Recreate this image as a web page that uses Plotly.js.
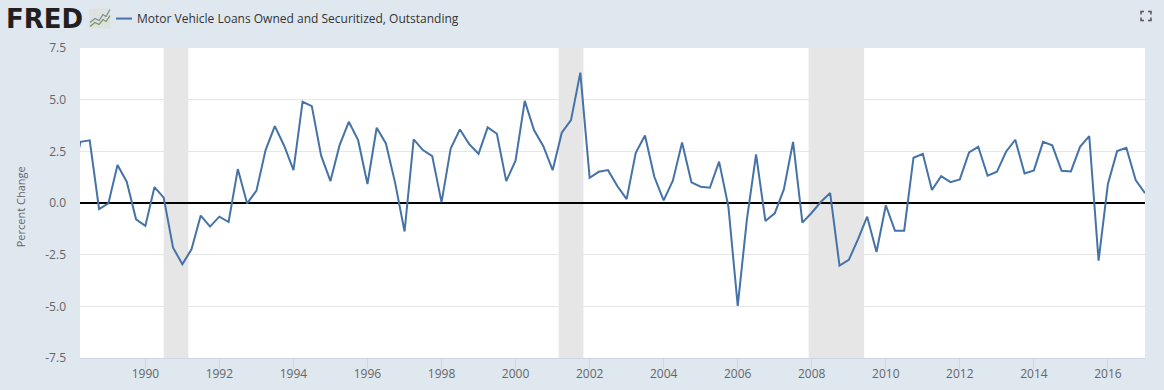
<!DOCTYPE html>
<html>
<head>
<meta charset="utf-8">
<script src="https://cdn.plot.ly/plotly-3.0.1.min.js"></script>
<style>html,body{margin:0;padding:0;background:#dfe7ef;}#chart{width:1164px;height:390px;}</style>
</head>
<body>
<div id="chart"></div>
<script>
const seriesName = "Motor Vehicle Loans Owned and Securitized, Outstanding";
const yAxisTitle = "Percent Change";
const yTicks = [-7.5,-5,-2.5,0,2.5,5,7.5];
const yTickLabels = ["-7.5","-5.0","-2.5","0.0","2.5","5.0","7.5"];
const xTicks = ["1990-01-01","1992-01-01","1994-01-01","1996-01-01","1998-01-01","2000-01-01","2002-01-01","2004-01-01","2006-01-01","2008-01-01","2010-01-01","2012-01-01","2014-01-01","2016-01-01"];
const xTickLabels = ["1990","1992","1994","1996","1998","2000","2002","2004","2006","2008","2010","2012","2014","2016"];
const recessionStarts = ["1990-07-01","2001-03-01","2007-12-01"];
const recessionEnds = ["1991-03-01","2001-11-01","2009-06-01"];

const dates = [
"1988-01-01","1988-04-01","1988-07-01","1988-10-01",
"1989-01-01","1989-04-01","1989-07-01","1989-10-01",
"1990-01-01","1990-04-01","1990-07-01","1990-10-01",
"1991-01-01","1991-04-01","1991-07-01","1991-10-01",
"1992-01-01","1992-04-01","1992-07-01","1992-10-01",
"1993-01-01","1993-04-01","1993-07-01","1993-10-01",
"1994-01-01","1994-04-01","1994-07-01","1994-10-01",
"1995-01-01","1995-04-01","1995-07-01","1995-10-01",
"1996-01-01","1996-04-01","1996-07-01","1996-10-01",
"1997-01-01","1997-04-01","1997-07-01","1997-10-01",
"1998-01-01","1998-04-01","1998-07-01","1998-10-01",
"1999-01-01","1999-04-01","1999-07-01","1999-10-01",
"2000-01-01","2000-04-01","2000-07-01","2000-10-01",
"2001-01-01","2001-04-01","2001-07-01","2001-10-01",
"2002-01-01","2002-04-01","2002-07-01","2002-10-01",
"2003-01-01","2003-04-01","2003-07-01","2003-10-01",
"2004-01-01","2004-04-01","2004-07-01","2004-10-01",
"2005-01-01","2005-04-01","2005-07-01","2005-10-01",
"2006-01-01","2006-04-01","2006-07-01","2006-10-01",
"2007-01-01","2007-04-01","2007-07-01","2007-10-01",
"2008-01-01","2008-04-01","2008-07-01","2008-10-01",
"2009-01-01","2009-04-01","2009-07-01","2009-10-01",
"2010-01-01","2010-04-01","2010-07-01","2010-10-01",
"2011-01-01","2011-04-01","2011-07-01","2011-10-01",
"2012-01-01","2012-04-01","2012-07-01","2012-10-01",
"2013-01-01","2013-04-01","2013-07-01","2013-10-01",
"2014-01-01","2014-04-01","2014-07-01","2014-10-01",
"2015-01-01","2015-04-01","2015-07-01","2015-10-01",
"2016-01-01","2016-04-01","2016-07-01","2016-10-01",
"2017-01-01"];
const values = [
1.00,2.96,3.03,-0.29,
-0.02,1.84,1.03,-0.79,
-1.11,0.77,0.26,-2.16,
-2.96,-2.24,-0.61,-1.14,
-0.66,-0.92,1.64,-0.02,
0.60,2.56,3.72,2.77,
1.59,4.90,4.69,2.29,
1.06,2.80,3.93,3.04,
0.92,3.64,2.88,0.95,
-1.38,3.08,2.56,2.27,
0.03,2.64,3.56,2.85,
2.38,3.66,3.35,1.06,
2.05,4.94,3.53,2.75,
1.59,3.40,4.01,6.31,
1.22,1.51,1.59,0.82,
0.19,2.43,3.27,1.27,
0.13,1.08,2.93,1.00,
0.79,0.74,2.00,-0.18,
-4.98,-0.82,2.35,-0.87,
-0.50,0.66,2.96,-0.95,
-0.47,0.06,0.48,-3.03,
-2.75,-1.76,-0.66,-2.37,
-0.11,-1.34,-1.34,2.19,
2.38,0.63,1.30,1.01,
1.14,2.45,2.72,1.32,
1.51,2.48,3.06,1.43,
1.58,2.96,2.79,1.56,
1.53,2.72,3.24,-2.79,
0.92,2.51,2.67,1.11,
0.47];

const W = 1164, H = 390, L = 80, R = 1145, T = 47.5, B = 358;
const px = v => (v - L) / (R - L);
const py = v => (B - v) / (B - T);
const pathOf = pts => pts.map((p, i) => (i ? "L" : "M") + px(p[0]) + "," + py(p[1])).join(" ");
const deco = (pts, color, width) => ({type:"path", xref:"paper", yref:"paper", path:pathOf(pts), line:{color:color, width:width}, layer:"above"});

const recessionShapes = recessionStarts.map((s, i) => ({
  type:"rect", xref:"x", yref:"paper", x0:s, x1:recessionEnds[i], y0:0, y1:1,
  fillcolor:"#e6e6e6", line:{width:0}, layer:"between"
}));

const logoShapes = [
  {type:"rect", xref:"paper", yref:"paper", x0:px(89), x1:px(110.5), y0:py(28), y1:py(8), fillcolor:"#dde2df", line:{width:0}, layer:"above"},
  deco([[90,22],[95,18],[99,20],[103,14],[106,16],[110,9]], "#7d8c99", 1.2),
  deco([[90,26],[95,22],[99,24],[103,19],[106,21],[110,15]], "#77935a", 1.2),
  deco([[116,18],[132,18]], "#4572a7", 2),
  deco([[1141,14],[1141,11],[1144,11]], "#555555", 1.5),
  deco([[1148,11],[1151,11],[1151,14]], "#555555", 1.5),
  deco([[1141,17],[1141,20],[1144,20]], "#555555", 1.5),
  deco([[1148,20],[1151,20],[1151,17]], "#555555", 1.5)
];

const layout = {
  width:W, height:H, autosize:false,
  paper_bgcolor:"#dfe7ef", plot_bgcolor:"#ffffff",
  margin:{l:L, r:W-R, t:T, b:H-B, pad:0},
  showlegend:false,
  font:{family:"'Open Sans', sans-serif", size:12, color:"#666666"},
  xaxis:{
    type:"date", range:["1988-03-27","2017-01-01"],
    tickmode:"array", tickvals:xTicks, ticktext:xTickLabels,
    ticks:"outside", ticklen:10, tickwidth:1, tickcolor:"#ccd6eb",
    ticklabelstandoff:-5,
    showline:true, linecolor:"#ccd6eb", linewidth:1,
    showgrid:false, zeroline:false,
    tickfont:{family:"'Open Sans', sans-serif", size:12, color:"#666666"}
  },
  yaxis:{
    range:[-7.5,7.5],
    tickmode:"array", tickvals:yTicks, ticktext:yTickLabels,
    ticklabelstandoff:13,
    showgrid:true, gridcolor:"#e6e6e6", gridwidth:1,
    zeroline:true, zerolinecolor:"#000000", zerolinewidth:2,
    ticks:"", ticklen:0, showline:false,
    tickfont:{family:"'Open Sans', sans-serif", size:12, color:"#666666"}
  },
  shapes: recessionShapes.concat(logoShapes),
  annotations:[
    {xref:"paper", yref:"paper", x:px(3.5), y:py(18), xanchor:"left", yanchor:"middle", showarrow:false,
     text:"<b>FRED</b>", font:{family:"'DejaVu Sans', sans-serif", size:26, color:"#231f20"}},
    {xref:"paper", yref:"paper", x:px(135), y:py(18), xanchor:"left", yanchor:"middle", showarrow:false,
     text:seriesName, font:{family:"'Open Sans', sans-serif", size:12, color:"#333333"}},
    {xref:"paper", yref:"paper", x:px(20), y:py(207), xanchor:"center", yanchor:"middle", showarrow:false, textangle:-90,
     text:yAxisTitle, font:{family:"'Open Sans', sans-serif", size:11, color:"#666666"}}
  ]
};

const traces = [{
  type:"scatter", mode:"lines", name:seriesName,
  x:dates, y:values,
  line:{color:"#4572a7", width:2, shape:"linear"},
  hoverinfo:"x+y"
}];

Plotly.newPlot("chart", traces, layout, {displayModeBar:false, responsive:false});
</script>
</body>
</html>
